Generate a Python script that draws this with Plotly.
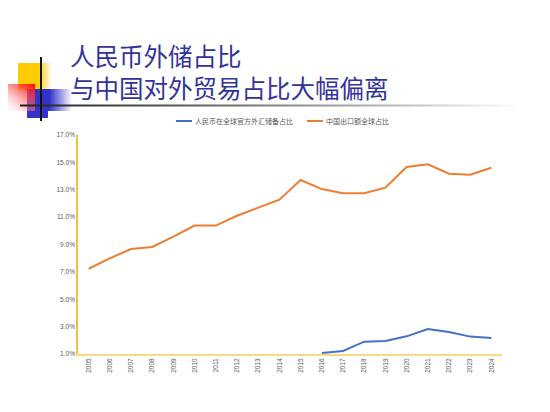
import base64
import plotly.graph_objects as go

# data (percent)
years = [str(y) for y in range(2005, 2025)]
rmb_reserve_share = [None, None, None, None, None, None, None, None, None, None, None,
                     1.07, 1.22, 1.90, 1.95, 2.29, 2.83, 2.61, 2.27, 2.17]
china_export_share = [7.23, 7.99, 8.67, 8.82, 9.57, 10.38, 10.38, 11.10, 11.69, 12.28,
                      13.71, 13.05, 12.74, 12.74, 13.15, 14.66, 14.86, 14.17, 14.10, 14.61]
y_ticks = [1, 3, 5, 7, 9, 11, 13, 15, 17]
y_tick_text = ["%.1f%%" % v for v in y_ticks]
series_names = ["人民币在全球官方外汇储备占比", "中国出口额全球占比"]
series_colors = ["#4472C4", "#ED7D31"]

OFF = 8  # page is shown with the browser's 8px body margin
W, H = 550 - OFF, 412 - OFF
L, T = 78 - OFF, 135 - OFF
pw, ph = 424, 219
R, B = W - L - pw, H - T - ph


def px_x(x):  # page pixel -> paper x
    return (x - OFF - L) / pw


def px_y(y):  # page pixel -> paper y
    return (T + ph - (y - OFF)) / ph


# slide decoration (squares + gradient rule), drawn as an svg picture
svg = f'''<svg xmlns="http://www.w3.org/2000/svg" width="550" height="130" viewBox="0 0 550 130">
<defs>
<linearGradient id="yl" x1="0" x2="1" y1="0" y2="0">
 <stop offset="0" stop-color="#FFCC00"/><stop offset="0.6" stop-color="#FFCC00"/>
 <stop offset="1" stop-color="#FFCC00" stop-opacity="0"/></linearGradient>
<linearGradient id="bl" x1="0" x2="1" y1="0" y2="0">
 <stop offset="0" stop-color="#3333CC"/><stop offset="0.5" stop-color="#3333CC"/>
 <stop offset="1" stop-color="#3333CC" stop-opacity="0"/></linearGradient>
<linearGradient id="rd" x1="1" x2="0" y1="0" y2="1">
 <stop offset="0" stop-color="#FF0000"/><stop offset="0.45" stop-color="#FF6666" stop-opacity="0.6"/>
 <stop offset="1" stop-color="#FFFFFF" stop-opacity="0"/></linearGradient>
<linearGradient id="ln" x1="0" x2="1" y1="0" y2="0">
 <stop offset="0" stop-color="#222222"/><stop offset="0.3" stop-color="#555555"/>
 <stop offset="0.75" stop-color="#BBBBBB"/><stop offset="1" stop-color="#FFFFFF"/></linearGradient>
</defs>
<rect x="18" y="63" width="34" height="27" fill="url(#yl)"/>
<rect x="27" y="89" width="45" height="22" fill="url(#bl)"/>
<rect x="27" y="110" width="21" height="8" fill="#3333CC"/>
<rect x="1" y="84" width="34" height="27" fill="url(#rd)"/>
<rect x="20" y="104.5" width="500" height="2" fill="url(#ln)"/>
<rect x="40" y="57" width="2" height="64" fill="#111111"/>
</svg>'''
svg_uri = "data:image/svg+xml;base64," + base64.b64encode(svg.encode()).decode()

fig = go.Figure()
for name, vals, col in zip(series_names, [rmb_reserve_share, china_export_share], series_colors):
    fig.add_trace(go.Scatter(x=years, y=vals, mode="lines", name=name,
                             line=dict(color=col, width=2), showlegend=False))

fig.add_layout_image(dict(source=svg_uri, xref="paper", yref="paper",
                          x=px_x(0), y=px_y(0), sizex=550 / pw, sizey=130 / ph,
                          xanchor="left", yanchor="top", sizing="stretch", layer="below"))

title_font = dict(family="Noto Sans CJK SC", size=24.5, color="#333399")
fig.add_annotation(text="人民币外储占比", xref="paper", yref="paper",
                   x=px_x(68), y=px_y(56), xanchor="left", yanchor="middle",
                   showarrow=False, font=title_font)
fig.add_annotation(text="与中国对外贸易占比大幅偏离", xref="paper", yref="paper",
                   x=px_x(68), y=px_y(87), xanchor="left", yanchor="middle",
                   showarrow=False, font=title_font)

# legend drawn by hand so the key lines stay short like the original
legend_font = dict(family="Noto Sans CJK SC", size=7, color="#595959")
for name, col, x0 in zip(series_names, series_colors, [176, 307]):
    fig.add_shape(type="line", xref="paper", yref="paper",
                  x0=px_x(x0), x1=px_x(x0 + 16), y0=px_y(121), y1=px_y(121),
                  line=dict(color=col, width=2))
    fig.add_annotation(text=name, xref="paper", yref="paper",
                       x=px_x(x0 + 17), y=px_y(121), xanchor="left", yanchor="middle",
                       showarrow=False, font=legend_font)

fig.update_layout(
    width=W, height=H,
    margin=dict(l=L, r=R, t=T, b=B),
    paper_bgcolor="white", plot_bgcolor="white",
    xaxis=dict(type="category", range=[-0.5, 19.5], tickangle=-90,
               showgrid=False, showline=True, linecolor="#F8DA80", linewidth=1.5,
               ticks="", tickfont=dict(family="Liberation Sans", size=6.5, color="#595959")),
    yaxis=dict(range=[1, 17], tickvals=y_ticks, ticktext=y_tick_text,
               showgrid=False, showline=True, linecolor="#F2C040", linewidth=1.5,
               ticks="", zeroline=False,
               tickfont=dict(family="Liberation Sans", size=6.5, color="#595959")),
)

fig.write_html("out.html")
